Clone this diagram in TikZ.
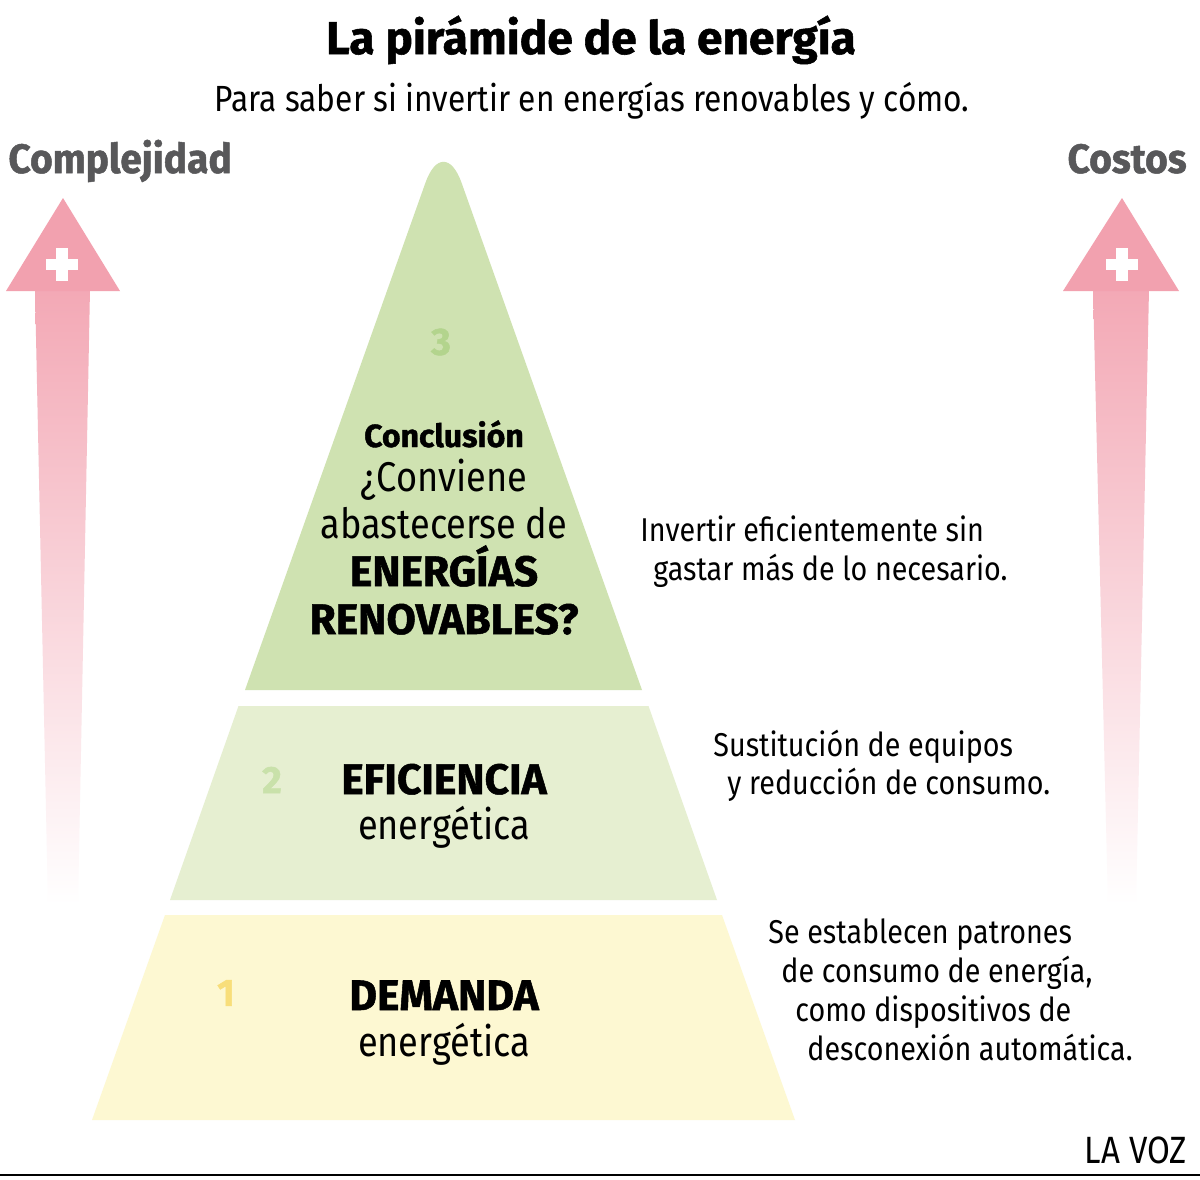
\documentclass[tikz,border=0pt]{standalone}
\usepackage{fontspec}
\setmainfont{Fira Sans}[FakeStretch=0.87]
\newfontfamily\heavy{Fira Sans}[UprightFont={* Bold}, FakeStretch=1.0, FakeBold=1.2]
\newfontfamily\heavynarrow{Fira Sans}[UprightFont={* Bold}, FakeStretch=0.95, FakeBold=1.2]
\definecolor{lvlthree}{HTML}{CFE2B1}
\definecolor{lvltwo}{HTML}{E6EFD1}
\definecolor{lvlone}{HTML}{FDF8D2}
\definecolor{numthree}{HTML}{B3D48D}
\definecolor{numtwo}{HTML}{C9E1AA}
\definecolor{numone}{HTML}{F8DE7A}
\definecolor{pinkarrow}{HTML}{F2A1AF}
\definecolor{graylbl}{HTML}{58585A}
\tikzset{
  body/.style={inner sep=0pt, font=\fontsize{16.5}{20}\selectfont, text=black},
  big/.style={inner sep=0pt, font=\fontsize{20.8}{24}\selectfont, text=black, anchor=base},
  bigb/.style={inner sep=0pt, font=\fontsize{21.3}{24}\heavy\selectfont, text=black, anchor=base},
  numlbl/.style={inner sep=0pt, font=\fontsize{19}{22}\heavy\selectfont},
  side/.style={inner sep=0pt, font=\fontsize{20.5}{24}\heavynarrow\selectfont, text=graylbl},
}
\begin{document}
\begin{tikzpicture}[x=0.5pt,y=-0.5pt]
\useasboundingbox (0,0) rectangle (1200,1179);
\fill[white] (0,0) rectangle (1200,1179);

% titles
\node[inner sep=0pt, anchor=base, font=\fontsize{23}{26}\heavy\selectfont] (title) at (591,54) {La pirámide de la energía};
\node[inner sep=0pt, anchor=base, font=\fontsize{18.2}{20}\selectfont] (subtitle) at (592,111) {Para saber si invertir en energías renovables y cómo.};
\node[side, anchor=base west] (complej) at (8,173) {Complejidad};
\node[side, anchor=base east] (costos) at (1187,173) {Costos};

% left arrow
\shade[top color=pinkarrow!92, middle color=pinkarrow!38, bottom color=white] (35,289) -- (90,289) -- (78,905) -- (48,905) -- cycle;
\fill[pinkarrow] (6,291) -- (63,198) -- (120,291) -- cycle;
\fill[white] (46,259) rectangle (78,270);
\fill[white] (56,248) rectangle (68,281);
% right arrow
\shade[top color=pinkarrow!92, middle color=pinkarrow!38, bottom color=white] (1093,289) -- (1149,289) -- (1136,905) -- (1108,905) -- cycle;
\fill[pinkarrow] (1063,291) -- (1122,198) -- (1179,291) -- cycle;
\fill[white] (1106,259) rectangle (1138,270);
\fill[white] (1116,248) rectangle (1128,281);

% pyramid
\fill[lvlthree] (245,690) [rounded corners=27pt] -- (443.5,132) [sharp corners] -- (642,690) -- cycle;
\fill[lvltwo] (238.5,706) -- (648.5,706) -- (717,900) -- (170,900) -- cycle;
\fill[lvlone] (165,915) -- (722,915) -- (795,1120) -- (92,1120) -- cycle;

% level 3 texts
\node[numlbl, text=numthree] (n3) at (441,342) {3};
\node[inner sep=0pt, anchor=base, font=\fontsize{16}{18}\heavy\selectfont] (concl) at (444,447) {Conclusión};
\node[big] (conv) at (444,491) {¿Conviene};
\node[big] (abast) at (444,538) {abastecerse de};
\node[bigb] (energ) at (444,586) {ENERGÍAS};
\node[bigb] (renov) at (444,634) {RENOVABLES?};

% level 2 texts
\node[numlbl, text=numtwo] (n2) at (272,780) {2};
\node[bigb] (efic) at (444,794) {EFICIENCIA};
\node[big] (energ2) at (444,839) {energética};

% level 1 texts
\node[numlbl, text=numone] (n1) at (226,993) {1};
\node[bigb] (deman) at (444,1010) {DEMANDA};
\node[big] (energ1) at (444,1056) {energética};

% side descriptions
\node[body, anchor=base west] (d3a) at (640,541) {Invertir eficientemente sin};
\node[body, anchor=base west] (d3b) at (653,580) {gastar más de lo necesario.};
\node[body, anchor=base west] (d2a) at (713,756) {Sustitución de equipos};
\node[body, anchor=base west] (d2b) at (727,794) {y reducción de consumo.};
\node[body, anchor=base west] (d1a) at (768,943) {Se establecen patrones};
\node[body, anchor=base west] (d1b) at (781,982) {de consumo de energía,};
\node[body, anchor=base west] (d1c) at (795,1021) {como dispositivos de};
\node[body, anchor=base west] (d1d) at (807,1060) {desconexión automática.};

% footer
\node[inner sep=0pt, anchor=base east, font=\fontsize{19}{22}\selectfont] (lavoz) at (1187,1163) {LA VOZ};
\draw[line width=1.2pt] (0,1175) -- (1200,1175);
\end{tikzpicture}
\end{document}
